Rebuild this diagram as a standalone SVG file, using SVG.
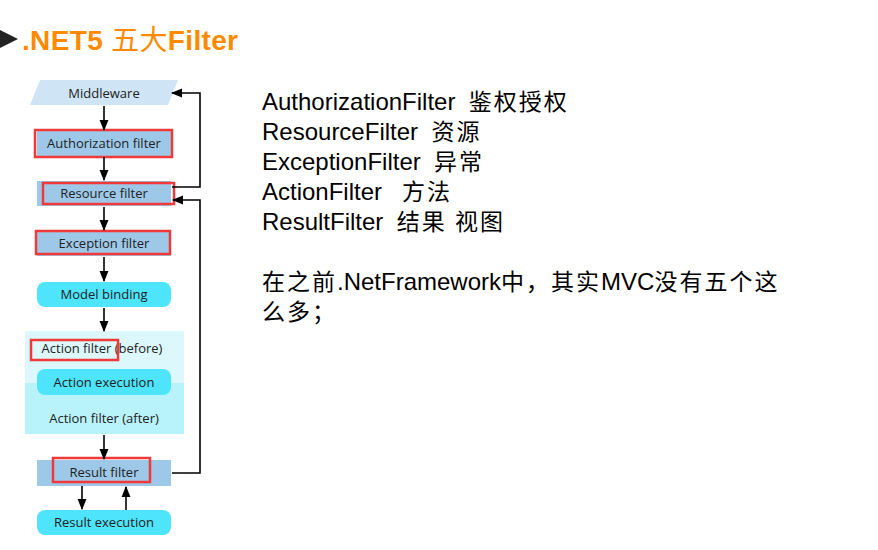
<svg xmlns="http://www.w3.org/2000/svg" width="878" height="550" viewBox="0 0 878 550">
<defs>
<marker id="ah" viewBox="0 0 10 10" refX="9" refY="5" markerWidth="7" markerHeight="7" orient="auto"><path d="M0,1 L10,5 L0,9 z" fill="#000"/></marker>
<style>
.n{font-family:"Open Sans","Liberation Sans",sans-serif;font-size:13px;fill:#222;text-anchor:middle}
.blue{fill:#9dc8e8}
.cyan{fill:#4ee4fb}
.red{fill:none;stroke:#f03a3a;stroke-width:2.5}
.c{stroke:#000;stroke-width:1.6;fill:none;marker-end:url(#ah)}
.r{font-family:"Liberation Sans","Noto Sans CJK SC",sans-serif;font-size:24px;fill:#000;white-space:pre}
.z{font-size:23px;letter-spacing:2px}
</style>
</defs>
<rect width="878" height="550" fill="#fff"/>
<path d="M0,30 L18,39 L0,48 z" fill="#222"/>
<text x="22" y="50" font-family="Liberation Sans,'Noto Sans CJK SC',sans-serif" font-weight="bold" font-size="28" fill="#ff8a00" textLength="216">.NET5 <tspan font-weight="normal">五大</tspan>Filter</text>
<g id="middleware"><path d="M40,80 L178,80 L168,105 L30,105 z" fill="#cfe5f5"/><text class="n" x="104" y="98">Middleware</text></g>
<g id="authorization"><rect class="blue" x="37" y="131" width="134" height="25"/><rect class="red" x="35" y="130" width="137" height="27"/><text class="n" x="104" y="148">Authorization filter</text></g>
<g id="resource"><rect class="blue" x="37" y="181" width="134" height="25"/><rect class="red" x="43" y="183" width="131" height="21"/><text class="n" x="104" y="198">Resource filter</text></g>
<g id="exception"><rect class="blue" x="37" y="231" width="134" height="25"/><rect class="red" x="36" y="231" width="134" height="23"/><text class="n" x="104" y="248">Exception filter</text></g>
<g id="modelbinding"><rect class="cyan" x="37" y="282" width="134" height="25" rx="8"/><text class="n" x="104" y="299">Model binding</text></g>
<g id="action">
<rect x="25" y="331" width="159" height="52" fill="#dcf8fc"/><rect x="25" y="383" width="159" height="51" fill="#b8f2fb"/>
<text class="n" x="102" y="353">Action filter (before)</text><rect class="red" x="31" y="340" width="87" height="20"/>
<rect class="cyan" x="37" y="369" width="134" height="26" rx="8"/><text class="n" x="104" y="387">Action execution</text>
<text class="n" x="104" y="423">Action filter (after)</text></g>
<g id="result"><rect class="blue" x="37" y="460" width="134" height="26"/><rect class="red" x="53" y="458" width="97" height="24"/><text class="n" x="104" y="477">Result filter</text></g>
<g id="resultexec"><rect class="cyan" x="37" y="510" width="134" height="25" rx="8"/><text class="n" x="104" y="527">Result execution</text></g>
<g id="connectors">
<path class="c" d="M104,106 V130"/>
<path class="c" d="M104,157 V180"/>
<path class="c" d="M104,207 V230"/>
<path class="c" d="M104,257 V281"/>
<path class="c" d="M104,308 V331"/>
<path class="c" d="M104,435 V459"/>
<path class="c" d="M82,486 V509"/>
<path class="c" d="M126,510 V487"/>
<path class="c" d="M172,187 H200 V93 H172"/>
<path class="c" d="M172,473 H200 V200 H173"/>
</g>
<g id="notes">
<text class="r" x="262" y="110">AuthorizationFilter  <tspan class="z">鉴权授权</tspan></text>
<text class="r" x="262" y="140">ResourceFilter  <tspan class="z">资源</tspan></text>
<text class="r" x="262" y="170">ExceptionFilter  <tspan class="z">异常</tspan></text>
<text class="r" x="262" y="200">ActionFilter   <tspan class="z">方法</tspan></text>
<text class="r" x="262" y="230">ResultFilter  <tspan class="z">结果 视图</tspan></text>
<text class="r" x="262" y="290"><tspan class="z">在之前</tspan>.NetFramework<tspan class="z">中，其实</tspan>MVC<tspan class="z">没有五个这</tspan></text>
<text class="r" x="262" y="320"><tspan class="z">么多；</tspan></text>
</g>
</svg>
